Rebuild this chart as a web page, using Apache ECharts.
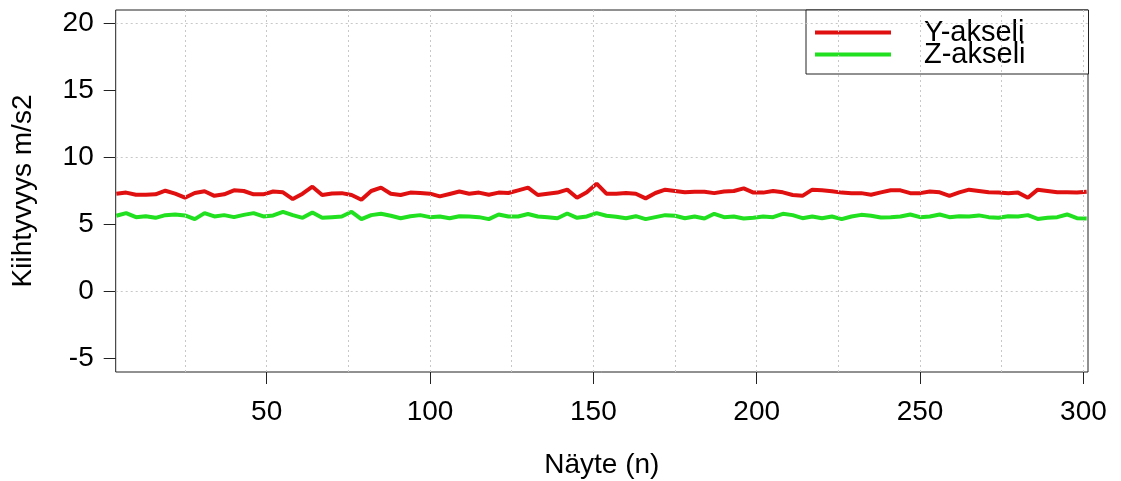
<!DOCTYPE html>
<html>
<head>
<meta charset="utf-8">
<script src="https://cdn.jsdelivr.net/npm/echarts@6/dist/echarts.min.js"></script>
<style>html,body{margin:0;padding:0;background:#fff}#c{width:1121px;height:481px}</style>
</head>
<body>
<div id="c"></div>
<script>
// Sample numbers (n) start at 4 and advance by 3
const firstSample = 4;
const sampleStep = 3;
const yAxisValues = [7.29,7.38,7.22,7.22,7.25,7.52,7.3,7.0,7.35,7.48,7.14,7.25,7.55,7.5,7.25,7.25,7.46,7.4,6.9,7.3,
  7.82,7.2,7.32,7.34,7.2,6.85,7.5,7.75,7.3,7.2,7.38,7.35,7.3,7.1,7.28,7.46,7.3,7.38,7.22,7.38,
  7.35,7.55,7.75,7.2,7.3,7.38,7.6,7.0,7.4,8.05,7.3,7.3,7.35,7.3,6.95,7.35,7.6,7.5,7.4,7.45,
  7.45,7.34,7.46,7.5,7.7,7.38,7.38,7.5,7.4,7.2,7.14,7.6,7.55,7.48,7.38,7.34,7.34,7.22,7.4,7.55,
  7.55,7.34,7.34,7.46,7.4,7.14,7.4,7.6,7.5,7.4,7.38,7.34,7.38,7.0,7.6,7.5,7.4,7.4,7.38,7.45];
const zAxisValues = [5.65,5.85,5.55,5.62,5.5,5.7,5.75,5.68,5.4,5.85,5.6,5.7,5.55,5.72,5.85,5.6,5.68,5.95,5.7,5.5,
  5.9,5.5,5.55,5.6,5.95,5.4,5.7,5.8,5.65,5.47,5.62,5.7,5.55,5.6,5.47,5.62,5.6,5.55,5.4,5.75,
  5.6,5.6,5.78,5.6,5.55,5.47,5.82,5.5,5.6,5.85,5.65,5.58,5.47,5.62,5.4,5.55,5.7,5.65,5.47,5.6,
  5.45,5.8,5.55,5.6,5.45,5.5,5.6,5.55,5.8,5.7,5.47,5.6,5.47,5.6,5.4,5.6,5.72,5.65,5.52,5.55,
  5.6,5.75,5.55,5.6,5.75,5.55,5.62,5.6,5.68,5.55,5.5,5.62,5.6,5.7,5.42,5.5,5.55,5.75,5.47,5.45];
const xTickLabels = [50, 100, 150, 200, 250, 300];
const yTickLabels = [-5, 0, 5, 10, 15, 20];
const xGridValues = [25, 50, 75, 100, 125, 150, 175, 200, 225, 250, 275, 300];
const yGridValues = [0, 10, 20];
const seriesNames = ['Y-akseli', 'Z-akseli'];

const toPairs = arr => arr.map((v, i) => [firstSample + sampleStep * i, v]);
const FONT = 'Liberation Sans, Arial, sans-serif';
const FS = 28;
const LFS = 29;
const gridLine = {color: '#c8c8c8', width: 1, type: [2, 3]};

const chart = echarts.init(document.getElementById('c'), null, {renderer: 'canvas'});
chart.setOption({
  animation: false,
  backgroundColor: '#fff',
  grid: {left: 115.7, right: 33, top: 10, bottom: 109, containLabel: false, outerBoundsMode: 'none',
    show: true, borderColor: '#222', borderWidth: 1, backgroundColor: 'transparent'},
  xAxis: {
    type: 'value', min: 3.8, max: 301.4,
    name: 'Näyte (n)', nameLocation: 'middle', nameGap: 79,
    nameTextStyle: {fontFamily: FONT, fontSize: FS, color: '#000'},
    axisLine: {show: false, onZero: false},
    axisTick: {show: true, customValues: xTickLabels, length: 12, inside: false, lineStyle: {color: '#222'}},
    axisLabel: {customValues: xTickLabels, fontFamily: FONT, fontSize: FS, color: '#000', margin: 26},
    splitLine: {show: false}
  },
  yAxis: {
    type: 'value', min: -6, max: 21,
    name: 'Kiihtyvyys m/s2', nameLocation: 'middle', nameGap: 78, nameRotate: 90,
    nameTextStyle: {fontFamily: FONT, fontSize: FS, color: '#000'},
    axisLine: {show: false, onZero: false},
    axisTick: {show: true, customValues: yTickLabels, length: 12, inside: false, lineStyle: {color: '#222'}},
    axisLabel: {customValues: yTickLabels, fontFamily: FONT, fontSize: FS, color: '#000', margin: 22},
    splitLine: {show: false}
  },
  legend: {
    data: seriesNames,
    orient: 'vertical',
    left: 806, top: 10,
    padding: [8, 63, 5, 9],
    itemGap: -7,
    itemWidth: 76, itemHeight: 4,
    icon: 'rect',
    borderColor: '#222', borderWidth: 1, backgroundColor: '#fff',
    textStyle: {fontFamily: FONT, fontSize: LFS, color: '#000', padding: [0, 0, 0, 28]}
  },
  series: [
    {
      name: 'grid', type: 'line', data: [], silent: true, z: 1,
      markLine: {
        silent: true, symbol: 'none', label: {show: false}, animation: false,
        lineStyle: gridLine,
        data: xGridValues.map(v => ({xAxis: v})).concat(yGridValues.map(v => ({yAxis: v})))
      }
    },
    {
      name: seriesNames[0], type: 'line', data: toPairs(yAxisValues), showSymbol: false, z: 3,
      itemStyle: {color: '#e01010'}, lineStyle: {color: '#e01010', width: 4}
    },
    {
      name: seriesNames[1], type: 'line', data: toPairs(zAxisValues), showSymbol: false, z: 3,
      itemStyle: {color: '#20e020'}, lineStyle: {color: '#20e020', width: 4}
    }
  ]
});
</script>
</body>
</html>
